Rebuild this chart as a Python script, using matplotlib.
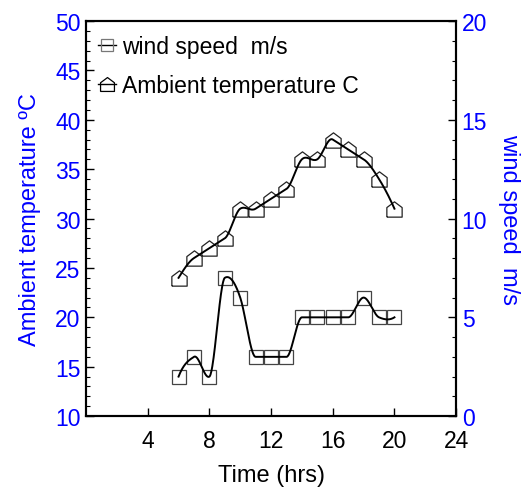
import numpy as np
import matplotlib
matplotlib.use("Agg")
import matplotlib.pyplot as plt
from matplotlib.lines import Line2D

plt.rcParams['font.family'] = ['Liberation Sans', 'DejaVu Sans']

hours = [6, 7, 8, 9, 10, 11, 12, 13, 14, 15, 16, 17, 18, 19, 20]
temperature = [24, 26, 27, 28, 31, 31, 32, 33, 36, 36, 38, 37, 36, 34, 31]
wind_speed = [2, 3, 2, 7, 6, 3, 3, 3, 5, 5, 5, 5, 6, 5, 5]
x_ticks = [4, 8, 12, 16, 20, 24]


def akima_curve(x, y, n=500):
    x = np.asarray(x, float)
    y = np.asarray(y, float)
    m = np.diff(y) / np.diff(x)
    mm = np.concatenate([[3 * m[0] - 2 * m[1], 2 * m[0] - m[1]], m,
                         [2 * m[-1] - m[-2], 3 * m[-1] - 2 * m[-2]]])
    k = len(x)
    t = np.zeros(k)
    for i in range(k):
        m1, m2, m3, m4 = mm[i], mm[i + 1], mm[i + 2], mm[i + 3]
        w1 = abs(m4 - m3)
        w2 = abs(m2 - m1)
        if w1 + w2 == 0:
            t[i] = 0.5 * (m2 + m3)
        else:
            t[i] = (w1 * m2 + w2 * m3) / (w1 + w2)
    xs = np.linspace(x[0], x[-1], n)
    ys = np.empty_like(xs)
    for j, xv in enumerate(xs):
        i = min(np.searchsorted(x, xv, side='right') - 1, k - 2)
        h = x[i + 1] - x[i]
        s = (xv - x[i]) / h
        h00 = 2 * s ** 3 - 3 * s ** 2 + 1
        h10 = s ** 3 - 2 * s ** 2 + s
        h01 = -2 * s ** 3 + 3 * s ** 2
        h11 = s ** 3 - s ** 2
        ys[j] = h00 * y[i] + h10 * h * t[i] + h01 * y[i + 1] + h11 * h * t[i + 1]
    return xs, ys


house = [(-1, -1), (1, -1), (1, 0.25), (0, 1), (-1, 0.25), (-1, -1)]

fig = plt.figure(figsize=(5.31, 4.89), dpi=100)
ax = fig.add_axes([0.162, 0.147, 0.697, 0.808])
ax2 = ax.twinx()

xs, ys = akima_curve(hours, temperature)
ax.plot(xs, ys, color='black', lw=1.4, zorder=3)
ax.plot(hours, temperature, linestyle='none', marker=house, ms=11,
        mfc='none', mec='#222222', mew=0.9, zorder=2)

xs2, ys2 = akima_curve(hours, wind_speed)
ax2.plot(xs2, ys2, color='black', lw=1.4, zorder=3)
ax2.plot(hours, wind_speed, linestyle='none', marker='s', ms=9.5,
         mfc='none', mec='#444444', mew=0.9, zorder=2)

ax.set_xlim(0, 24)
ax.set_ylim(10, 50)
ax2.set_ylim(0, 20)
ax.set_xticks(x_ticks)
ax.set_yticks(np.arange(10, 51, 5))
ax.set_yticks(np.arange(10, 51, 1), minor=True)
ax2.set_yticks(np.arange(0, 21, 5))
ax2.set_yticks(np.arange(0, 21, 1), minor=True)

for a in (ax, ax2):
    for s in a.spines.values():
        s.set_linewidth(1.5)

ax.tick_params(axis='both', which='major', direction='in', length=6, width=1,
               labelsize=16.5)
ax.tick_params(axis='x', pad=9)
ax.tick_params(axis='y', pad=4, labelcolor='blue')
ax.tick_params(axis='y', which='minor', direction='in', length=3, width=0.8)
ax2.tick_params(axis='y', which='major', direction='in', length=6, width=1,
                labelsize=16.5, labelcolor='blue', pad=4)
ax2.tick_params(axis='y', which='minor', direction='in', length=3, width=0.8)

ax.set_xlabel('Time (hrs)', fontsize=17, labelpad=9)
ax.set_ylabel('Ambient temperature ºC', fontsize=17, color='blue', labelpad=10)
ax2.set_ylabel('wind speed  m/s', fontsize=17, color='blue', rotation=270,
               labelpad=24)

h1 = Line2D([], [], color='black', lw=1.0, marker='s', ms=8, mfc='none',
            mec='#777777', mew=0.9)
h2 = Line2D([], [], color='black', lw=1.0, marker=house, ms=10, mfc='none',
            mec='black', mew=0.9)
ax2.legend([h1, h2], ['wind speed  m/s', 'Ambient temperature C'],
           loc='upper left', bbox_to_anchor=(0.01, 0.985),
           frameon=False, fontsize=16.5, handlelength=0.8,
           handletextpad=0.25, labelspacing=0.7, borderaxespad=0.15,
           borderpad=0.2)

fig.savefig('out.png', dpi=100)
